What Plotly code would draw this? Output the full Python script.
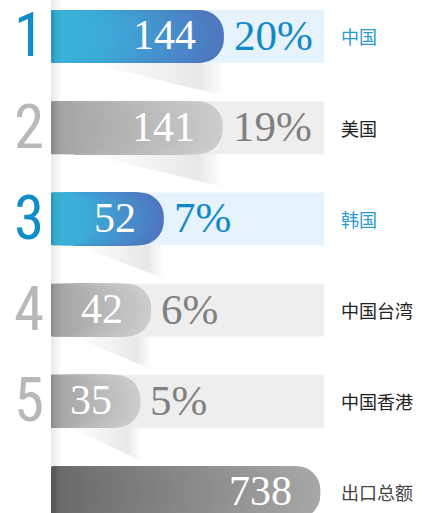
import numpy as np
import plotly.graph_objects as go

# ---- data -------------------------------------------------------------
ranks = ["1", "2", "3", "4", "5", ""]
regions = ["中国", "美国", "韩国", "中国台湾", "中国香港", "出口总额"]
values = [144, 141, 52, 42, 35, 738]
shares = ["20%", "19%", "7%", "6%", "5%", ""]
kinds = ["hi", "lo", "hi", "lo", "lo", "total"]

# ---- styling ----------------------------------------------------------
LX0, LX1 = 0.886, 2.895          # log10 range of the value axis
BASE = 10 ** LX0                 # bars start at the left edge of the axis
BAR_W = 0.58
N_STEPS = 48

GRAD = {
    "hi": [(0, "#2a9cc4"), (0.03, "#38b3d8"), (0.3, "#3cacd8"), (1, "#4f76c0")],
    "lo": [(0, "#939393"), (0.04, "#a3a3a3"), (1, "#cccccc")],
    "total": [(0, "#5c5c5c"), (0.03, "#6a6a6a"), (1, "#a7a7a7")],
}
BAND = {"hi": "#e6f2fc", "lo": "#eeeeee"}
RANK_COLOR = {"hi": "#0f8dc8", "lo": "#b8b8b8"}
PCT_COLOR = {"hi": "#1189c4", "lo": "#808080"}
NAME_COLOR = {"hi": "#2a9ad1", "lo": "#222222", "total": "#444444"}


def hex_rgb(h):
    h = h.lstrip("#")
    return np.array([int(h[i:i + 2], 16) for i in (0, 2, 4)], dtype=float)


def grad_color(stops, t):
    for (t0, c0), (t1, c1) in zip(stops[:-1], stops[1:]):
        if t <= t1:
            f = 0 if t1 == t0 else (t - t0) / (t1 - t0)
            c = hex_rgb(c0) * (1 - f) + hex_rgb(c1) * f
            return "rgb(%d,%d,%d)" % tuple(np.round(c))
    c = hex_rgb(stops[-1][1])
    return "rgb(%d,%d,%d)" % tuple(c)


fig = go.Figure()

# soft shading strip along the left edge
fig.add_trace(go.Scatter(
    x=[0, 0.04, 0.04, 0], y=[-0.5, -0.5, 5.4, 5.4],
    xaxis="x2", yaxis="y", mode="lines", fill="toself",
    line=dict(width=0, color="rgba(0,0,0,0)"),
    fillgradient=dict(type="horizontal",
                      colorscale=[[0, "rgba(0,0,0,0.09)"], [1, "rgba(0,0,0,0)"]]),
    hoverinfo="skip", showlegend=False,
))

# folded shadows under the ranked bars
for i, (v, k) in enumerate(zip(values, kinds)):
    if k == "total":
        continue
    xs = BASE * (v / BASE) ** 0.22
    xe = BASE * (v / BASE) ** 1.0
    yb = i + BAR_W / 2
    fig.add_trace(go.Scatter(
        x=[xs, xe, xe, xs], y=[yb, yb, yb + 0.36, yb],
        mode="lines", fill="toself",
        line=dict(width=0, color="rgba(0,0,0,0)"),
        fillgradient=dict(type="horizontal",
                          colorscale=[[0, "rgba(0,0,0,0)"], [0.55, "rgba(0,0,0,0.06)"],
                                      [0.82, "rgba(0,0,0,0.09)"], [1, "rgba(0,0,0,0)"]]),
        hoverinfo="skip", showlegend=False,
    ))

# gradient bars: nested bars with stepped colours, longest first
for i, (v, k) in enumerate(zip(values, kinds)):
    ends, cols = [], []
    for s in range(N_STEPS, 0, -1):
        f = s / N_STEPS
        ends.append(BASE * (v / BASE) ** f)
        cols.append(grad_color(GRAD[k], (s - 0.5) / N_STEPS))
    fig.add_trace(go.Bar(
        y=[i] * N_STEPS, x=[e - BASE for e in ends], base=[BASE] * N_STEPS,
        orientation="h", width=BAR_W,
        marker=dict(color=cols, line=dict(width=0), cornerradius="47%"),
        hoverinfo="skip", showlegend=False,
    ))

# background bands behind the ranked rows
shapes = []
for i, k in enumerate(kinds):
    if k == "total":
        continue
    shapes.append(dict(type="rect", xref="x domain", yref="y", x0=0, x1=1,
                       y0=i - BAR_W / 2, y1=i + BAR_W / 2,
                       fillcolor=BAND[k], line=dict(width=0), layer="below"))

annotations = []
serif = "Liberation Serif, Times New Roman, serif"
for i, (r, name, v, pct, k) in enumerate(zip(ranks, regions, values, shares, kinds)):
    # value inside the bar
    annotations.append(dict(
        x=np.log10(v), y=i, xref="x", yref="y", text=str(v),
        xanchor="right", yanchor="middle", xshift=-26, yshift=1, showarrow=False,
        font=dict(family=serif, size=42, color="white"),
    ))
    # share right after the bar
    if pct:
        annotations.append(dict(
            x=np.log10(v), y=i, xref="x", yref="y", text=pct,
            xanchor="left", yanchor="middle", xshift=8, yshift=1, showarrow=False,
            font=dict(family=serif, size=43, color=PCT_COLOR[k]),
        ))
    # rank number on the left
    if r:
        annotations.append(dict(
            x=-0.02, y=i, xref="paper", yref="y", text=r,
            xanchor="right", yanchor="middle", yshift=1, showarrow=False,
            font=dict(family="Liberation Sans Narrow, Roboto Condensed, Lato, sans-serif",
                      size=61, color=RANK_COLOR[k]),
        ))
    # region name
    annotations.append(dict(
        x=1.055, y=i, xref="paper", yref="y", text=name,
        xanchor="left", yanchor="middle", showarrow=False,
        font=dict(family="Noto Sans CJK SC, sans-serif", size=18,
                  color=NAME_COLOR[k]),
    ))

fig.update_layout(
    width=427, height=513,
    margin=dict(l=51, r=103, t=0, b=0, pad=0),
    paper_bgcolor="white", plot_bgcolor="white",
    barmode="overlay",
    xaxis=dict(type="log", range=[LX0, LX1], visible=False, fixedrange=True),
    xaxis2=dict(range=[0, 1], overlaying="x", visible=False, fixedrange=True),
    yaxis=dict(range=[5.225, -0.4], visible=False, fixedrange=True),
    shapes=shapes, annotations=annotations,
    showlegend=False,
)

fig.write_html("out.html")
